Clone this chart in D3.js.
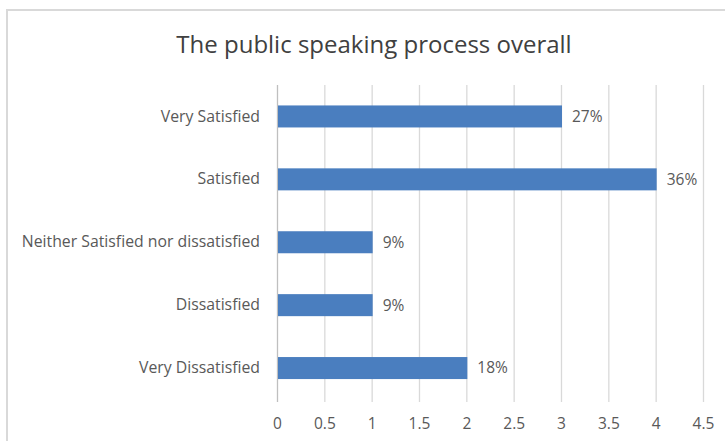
<!DOCTYPE html>
<html><head><meta charset="utf-8">
<script src="https://cdn.jsdelivr.net/npm/d3@7"></script>
<style>body{margin:0;background:#fff}svg{display:block}text{font-family:"Open Sans",Lato,sans-serif;font-variant-ligatures:none}</style>
</head><body><svg id="c" width="725" height="441"></svg>
<script>
const categories = ["Very Satisfied","Satisfied","Neither Satisfied nor dissatisfied","Dissatisfied","Very Dissatisfied"];
const values = [3,4,1,1,2];
const valueLabels = ["27%","36%","9%","9%","18%"];
const xTicks = [0,0.5,1,1.5,2,2.5,3,3.5,4,4.5];
const title = "The public speaking process overall";

const FONT = "'Open Sans', Lato, sans-serif";
const svg = d3.select("#c");
svg.append("rect").attr("x",7).attr("y",10).attr("width",740).attr("height",460)
  .attr("fill","#fff").attr("stroke","#d9d9d9").attr("stroke-width",2);

const x = d3.scaleLinear().domain([0,4.5]).range([277,703]);
const y = d3.scaleBand().domain(categories).range([85,399.5]).paddingInner(0.65).paddingOuter(0.325);
const plotTop = 85, plotBottom = 402;

svg.append("text").attr("x",374).attr("y",53).attr("text-anchor","middle")
  .attr("font-size",24).attr("fill","#404040").text(title);

// gridlines
svg.append("g").selectAll("line").data(xTicks).join("line")
  .attr("x1",d=>x(d)+0.5).attr("x2",d=>x(d)+0.5).attr("y1",plotTop).attr("y2",plotBottom)
  .attr("stroke",(d,i)=>i===0?"#bfbfbf":"#d9d9d9").attr("stroke-width",1.3);

// x tick labels
const xa = svg.append("g").attr("transform",`translate(0,400)`)
  .call(d3.axisBottom(x).tickValues(xTicks).tickSize(0).tickPadding(18).tickFormat(d=>String(d)));
xa.select(".domain").remove();
xa.selectAll("text").attr("font-size",15.5).attr("fill","#595959").attr("font-family",FONT);

// y labels
const ya = svg.append("g").attr("transform",`translate(${x(0)},0)`)
  .call(d3.axisLeft(y).tickSize(0).tickPadding(17));
ya.select(".domain").remove();
ya.selectAll("text").attr("font-size",15.8).attr("fill","#595959").attr("font-family",FONT);

// bars
svg.append("g").selectAll("rect").data(values).join("rect")
  .attr("x",x(0)+1).attr("y",(d,i)=>y(categories[i]))
  .attr("width",d=>x(d)-x(0)).attr("height",y.bandwidth()).attr("fill","#4a7ebf");

svg.append("g").selectAll("text").data(values).join("text")
  .attr("x",d=>x(d)+11).attr("y",(d,i)=>y(categories[i])+y.bandwidth()/2)
  .attr("dy","0.35em").attr("font-size",15.5).attr("fill","#595959")
  .text((d,i)=>valueLabels[i]);
</script></body></html>
